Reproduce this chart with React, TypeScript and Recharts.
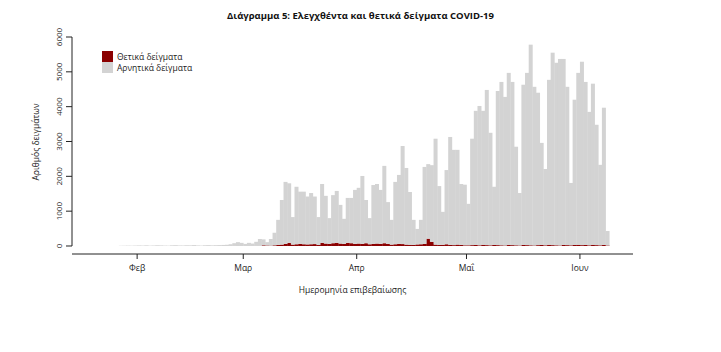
import { BarChart, Bar, XAxis, YAxis, ReferenceLine } from 'recharts'

// days are counted from 1 Feb 2020; the series starts on 27 Jan
const firstDay = -5
const monthTicks = [0, 29, 60, 90, 121]
const monthLabels = ['Φεβ', 'Μαρ', 'Απρ', 'Μαΐ', 'Ιουν']

// tested samples per day (total height of each bar)
const janTotals = [6, 8, 10, 8, 12]
const febTotals = [
  15, 12, 18, 10, 14, 20, 16, 12, 10, 18, 22, 15, 14, 20, 18, 25, 16, 12, 20, 24,
  18, 22, 26, 30, 35, 50, 80, 110, 90,
]
const marTotals = [
  60, 90, 70, 120, 200, 190, 110, 200, 380, 750, 1320, 1840, 1800, 830, 1700, 1560,
  1560, 1420, 1520, 1420, 830, 1780, 1440, 800, 1460, 1580, 1180, 780, 1380, 1380, 1610,
]
const aprTotals = [
  1670, 2010, 1320, 800, 1750, 1780, 1610, 2300, 1260, 750, 1840, 2040, 2870, 2240, 1550,
  750, 490, 750, 2270, 2350, 2320, 3080, 1720, 980, 2180, 3130, 2760, 2760, 1780, 1760,
]
const mayTotals = [
  1210, 3080, 3880, 4020, 3880, 4480, 3250, 1700, 4450, 4710, 4280, 4970, 4710, 2850, 1520,
  4630, 4970, 5780, 4570, 4400, 2960, 2210, 4770, 5550, 5260, 5370, 5370, 4570, 1810, 4200,
  4970,
]
const junTotals = [5290, 4710, 3850, 4660, 3480, 2330, 3970, 430]

// positive samples per day
const janPositives = [0, 0, 0, 0, 0]
const febPositives = [
  0, 0, 0, 0, 0, 0, 0, 0, 0, 0, 0, 0, 0, 0, 0, 0, 0, 0, 0, 0, 0, 0, 0, 0, 0, 1, 2, 0, 0,
]
const marPositives = [
  0, 0, 1, 2, 2, 20, 14, 10, 20, 30, 40, 60, 90, 40, 50, 60, 50, 45, 50, 55, 30, 90, 70,
  60, 80, 90, 70, 60, 90, 80, 60,
]
const aprPositives = [
  70, 60, 80, 50, 60, 70, 60, 80, 60, 40, 50, 60, 55, 40, 35, 30, 45, 50, 60, 210, 120, 40,
  30, 35, 50, 30, 25, 40, 30, 20,
]
const mayPositives = [
  20, 25, 30, 20, 35, 25, 20, 30, 25, 20, 15, 30, 25, 20, 15, 30, 25, 20, 15, 25, 30, 20,
  35, 25, 20, 15, 30, 25, 20, 30, 35,
]
const junPositives = [25, 30, 20, 35, 25, 20, 30, 15]

const totals = [...janTotals, ...febTotals, ...marTotals, ...aprTotals, ...mayTotals, ...junTotals]
const positives = [
  ...janPositives, ...febPositives, ...marPositives, ...aprPositives, ...mayPositives, ...junPositives,
]

const data = totals.map((total, i) => ({
  day: firstDay + i + 0.5,
  positive: positives[i],
  negative: total - positives[i],
}))

const xMin = -17.8
const xMax = 135.5
const font = '"Open Sans", sans-serif'

function YTick({ x, y, payload }: any) {
  return (
    <text
      x={x}
      y={y}
      transform={`rotate(-90 ${x} ${y})`}
      textAnchor="middle"
      fontSize={8}
      fontWeight={500}
      fill="#222"
      fontFamily={font}
    >
      {payload.value}
    </text>
  )
}

// recharts caps bars at 90% of the day width; widen them so days touch like a histogram
function DayBar({ x, y, width, height, fill }: any) {
  if (!height || height <= 0) return null
  const w = 4.0
  const cx = x + width / 2
  return <rect x={cx - w / 2} y={y} width={w} height={height} fill={fill} />
}

export default function App() {
  return (
    <div style={{ position: 'absolute', left: 0, top: 0, width: 721, height: 352, background: '#fff' }}>
      <div
        style={{
          position: 'absolute', top: 9, left: 0, width: 721, textAlign: 'center',
          fontFamily: font, fontWeight: 700, fontSize: 9.5, color: '#111',
        }}
      >
        Διάγραμμα 5: Ελεγχθέντα και θετικά δείγματα COVID-19
      </div>
      <div
        style={{
          position: 'absolute', left: 35, top: 142, transform: 'translate(-50%, -50%) rotate(-90deg)',
          fontFamily: font, fontSize: 8.5, fontWeight: 500, color: '#222', whiteSpace: 'nowrap',
        }}
      >
        Αριθμός δειγμάτων
      </div>
      <div
        style={{
          position: 'absolute', left: 102, top: 51, fontFamily: font, fontSize: 8.5,
          fontWeight: 500, color: '#222', lineHeight: '11px',
        }}
      >
        <div style={{ display: 'flex', alignItems: 'center' }}>
          <span style={{ width: 11, height: 11, background: '#8b0000', marginRight: 4 }} />
          Θετικά δείγματα
        </div>
        <div style={{ display: 'flex', alignItems: 'center' }}>
          <span style={{ width: 11, height: 11, background: '#d3d3d3', marginRight: 4 }} />
          Αρνητικά δείγματα
        </div>
      </div>
      <BarChart
        width={721}
        height={352}
        data={data}
        margin={{ top: 37, right: 88, left: 32, bottom: 68 }}
        barCategoryGap={0}
        style={{ position: 'absolute', left: 0, top: 0 }}
      >
        <XAxis
          dataKey="day"
          type="number"
          domain={[xMin, xMax]}
          ticks={monthTicks}
          tickFormatter={(v: number) => monthLabels[monthTicks.indexOf(v)]}
          height={30}
          tickSize={5}
          tickMargin={6}
          stroke="#222"
          tick={{ fontSize: 8.5, fill: '#222', fontFamily: font, fontWeight: 500 }}
          allowDataOverflow
          label={{
            value: 'Ημερομηνία επιβεβαίωσης',
            position: 'bottom',
            offset: 3,
            style: { fontSize: 8.5, fill: '#222', fontFamily: font, fontWeight: 500 },
          }}
        />
        <YAxis
          type="number"
          domain={[-230, 6000]}
          ticks={[0, 1000, 2000, 3000, 4000, 5000, 6000]}
          width={40}
          tickSize={6}
          tickMargin={4}
          axisLine={false}
          tickLine={{ stroke: '#222' }}
          tick={<YTick />}
          allowDataOverflow
        />
        <ReferenceLine
          segment={[{ x: xMin, y: 0 }, { x: xMin, y: 6000 }]}
          stroke="#222"
          ifOverflow="visible"
        />
        <Bar dataKey="positive" stackId="a" fill="#8b0000" shape={<DayBar />} isAnimationActive={false} />
        <Bar dataKey="negative" stackId="a" fill="#d3d3d3" shape={<DayBar />} isAnimationActive={false} />
      </BarChart>
    </div>
  )
}
